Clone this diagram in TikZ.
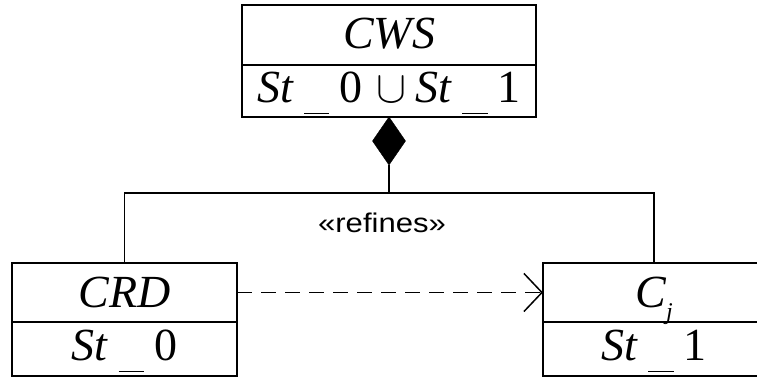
\documentclass[tikz,border=0pt]{standalone}
\usepackage{fontspec}
\setmainfont{Liberation Serif}
\newfontfamily\umlsans{Liberation Sans}
\usetikzlibrary{positioning,shapes.geometric,arrows.meta}

% state name with a lowered underscore, e.g. St_0
\newcommand{\stname}[1]{\textit{St}\hspace{0.22em}\smash{\rule[-0.26em]{0.55em}{1.4pt}}\hspace{0.22em}#1}
\newcommand{\bigcupsym}{\smash{\scalebox{4.5}{\normalsize$\cup$}}}

\begin{document}
\begin{tikzpicture}[x=1pt,y=1pt,
  part/.style={draw, line width=2.4pt, inner sep=0pt, outer sep=0pt, font=\fontsize{46}{46}\selectfont},
  staterow/.style={part, text depth=8pt},
  link/.style={line width=1.3pt},
  refine/.style={link, line width=1.5pt, dash pattern=on 15pt off 9pt, -{Straight Barb[length=18pt,width=38pt]}}]
\useasboundingbox (0,0) rectangle (757,379);
\clip (0,0) rectangle (757,379);

% composite class
\node[part, text depth=4pt, minimum width=294pt, minimum height=60pt] (cws) at (389,344) {\textit{CWS}};
\node[staterow, minimum width=294pt, minimum height=52pt, below=0pt of cws] (cwsst) {\stname{0}\hspace{0.3em}\bigcupsym\hspace{0.2em}\stname{1}};
\node[diamond, draw, fill=black, inner sep=0pt, outer sep=0pt, minimum width=33pt, minimum height=48pt, below=0pt of cwsst] (agg) {};

% parts
\node[part, minimum width=225pt, minimum height=59pt] (crd) at (124.5,86.5) {\textit{CRD}};
\node[staterow, minimum width=225pt, minimum height=54pt, below=0pt of crd] (crdst) {\stname{0}};
\node[part, minimum width=222pt, minimum height=59pt] (cj) at (654,86.5) {\textit{C}\raisebox{-12pt}[0pt][0pt]{\fontsize{24}{24}\selectfont\textit{j}}};
\node[staterow, minimum width=222pt, minimum height=54pt, below=0pt of cj] (cjst) {\stname{1}};

\coordinate (bar) at (389,186);
\draw[link] (agg.south) -- (bar);
\draw[link] (crd.north) |- (bar) -| (cj.north);

\node[font=\umlsans\fontsize{27}{27}\selectfont] (ref) at (382,156) {\scalebox{1.15}[1]{«refines»}};
\draw[refine] (crd.east) -- (cj.west);
\end{tikzpicture}
\end{document}
